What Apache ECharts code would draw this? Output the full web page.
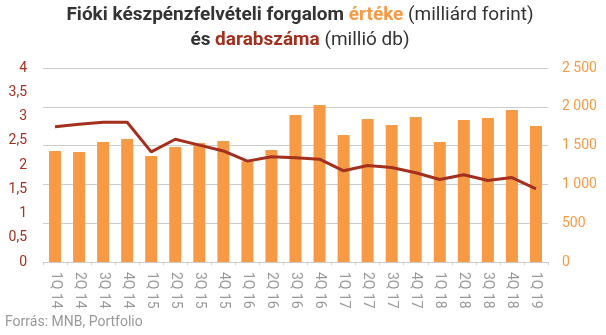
<!DOCTYPE html>
<html><head><meta charset="utf-8">
<script src="https://cdn.jsdelivr.net/npm/echarts@6/dist/echarts.min.js"></script>
<style>html,body{margin:0;padding:0;background:#fff}#c{width:606px;height:335px}</style>
</head><body><div id="c"></div>
<script>
var categories = ["1Q 14","2Q 14","3Q 14","4Q 14","1Q 15","2Q 15","3Q 15","4Q 15","1Q 16","2Q 16","3Q 16","4Q 16","1Q 17","2Q 17","3Q 17","4Q 17","1Q 18","2Q 18","3Q 18","4Q 18","1Q 19"];
var valueBars = [1430,1417,1546,1585,1366,1482,1533,1559,1298,1443,1894,2023,1637,1843,1766,1869,1546,1830,1856,1959,1753];
var countLine = [2.79,2.84,2.88,2.88,2.27,2.53,2.41,2.29,2.08,2.17,2.15,2.12,1.88,1.99,1.95,1.84,1.70,1.80,1.68,1.74,1.51];
var leftTicks = {min:0, max:4, interval:0.5};
var rightTicks = {min:0, max:2500, interval:500};

var ORANGE = '#F79A45', RED = '#A3301F', FONT = 'Roboto';
var richStyles = {
  b:{fontFamily:FONT,fontSize:19,fontWeight:'bold',color:'#333'},
  o:{fontFamily:FONT,fontSize:19,fontWeight:'bold',color:ORANGE},
  r:{fontFamily:FONT,fontSize:19,fontWeight:'bold',color:RED},
  n:{fontFamily:FONT,fontSize:19,fontWeight:'normal',color:'#333'}
};
var chart = echarts.init(document.getElementById('c'), null, {renderer:'canvas'});
chart.setOption({
  animation:false,
  textStyle:{fontFamily:FONT},
  title:[
    {left:300, textAlign:'center', top:6, padding:0,
     text:'{b|Fióki készpénzfelvételi forgalom }{o|értéke}{n| (milliárd forint)}',
     textStyle:{fontWeight:'normal',rich:richStyles}},
    {left:300, textAlign:'center', top:31, padding:0,
     text:'{b|és }{r|darabszáma}{n| (millió db)}',
     textStyle:{fontWeight:'normal',rich:richStyles}}
  ],
  graphic:[{type:'text',left:5,top:315,style:{text:'Forrás: MNB, Portfolio',fill:'#999999',font:'14px Roboto'}}],
  grid:{left:43,right:58,top:68,bottom:73},
  xAxis:{
    type:'category', data:categories,
    axisLine:{lineStyle:{color:'#cccccc',width:1}},
    axisTick:{show:true,length:3,lineStyle:{color:'#cccccc'}},
    axisLabel:{rotate:-90,color:'#999999',fontSize:14,fontFamily:FONT,margin:10,interval:0}
  },
  yAxis:[
    {type:'value',min:leftTicks.min,max:leftTicks.max,interval:leftTicks.interval,position:'left',
     splitLine:{show:false},axisLine:{show:false},axisTick:{show:false},
     axisLabel:{color:RED,fontSize:14,fontFamily:FONT,margin:16,
       formatter:function(v){return String(v).replace('.',',');}}},
    {type:'value',min:rightTicks.min,max:rightTicks.max,interval:rightTicks.interval,position:'right',
     splitLine:{show:true,lineStyle:{color:'#cccccc',width:1}},axisLine:{show:false},axisTick:{show:false},
     axisLabel:{color:ORANGE,fontSize:14,fontFamily:FONT,margin:14,
       formatter:function(v){return String(v).replace(/\B(?=(\d{3})+(?!\d))/g,' ');}}}
  ],
  series:[
    {type:'bar',yAxisIndex:1,data:valueBars,barWidth:12,itemStyle:{color:ORANGE},z:2},
    {type:'line',yAxisIndex:0,data:countLine,symbol:'none',lineStyle:{color:RED,width:3},z:3}
  ]
});
</script></body></html>
